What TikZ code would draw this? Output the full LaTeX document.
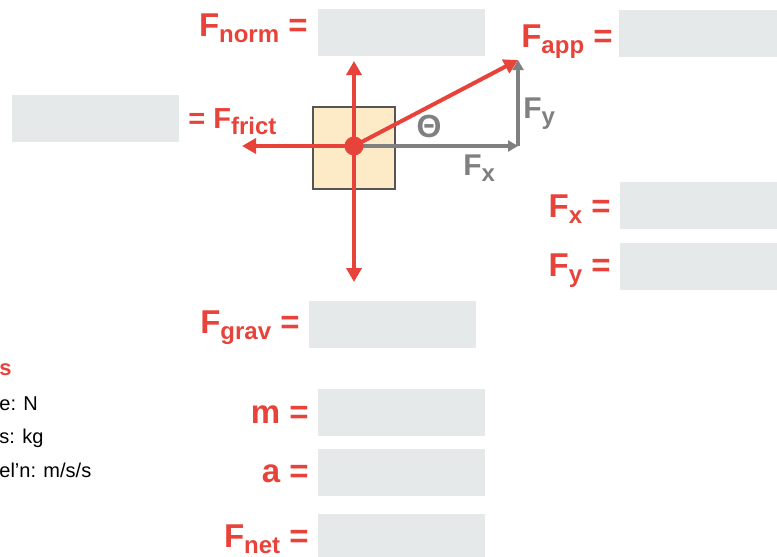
\documentclass[tikz,border=0pt]{standalone}
\usepackage{fontspec}
\setmainfont{Liberation Sans}
\usetikzlibrary{arrows.meta}
\definecolor{fbRed}{HTML}{E8433A}
\definecolor{fbGray}{HTML}{808080}
\definecolor{fbBox}{HTML}{E6E9EA}
\definecolor{fbBlock}{HTML}{FCEBC6}
\definecolor{fbEdge}{HTML}{555555}
\newcommand{\Fsub}[1]{F\raisebox{-0.4ex}{\fontsize{12}{14}\selectfont #1}}

\begin{document}
\begin{tikzpicture}[x=0.5pt,y=-0.5pt,
  lbl/.style={anchor=base east,fbRed,font=\fontsize{16.5}{20}\selectfont\bfseries,inner sep=0pt},
  blank/.style={fill=fbBox,inner sep=0pt,minimum width=83.5pt,minimum height=23.5pt,anchor=north west},
  unit/.style={anchor=base west,inner sep=0pt,font=\fontsize{10}{12}\selectfont},
  force/.style={fbRed,line width=2pt,-{Triangle[length=7pt,width=7.5pt]}},
  comp/.style={fbGray,line width=1.6pt,-{Triangle[length=5pt,width=5.5pt]}}]
  \clip (0,0) rectangle (777,557);
  % cases a remplir
  \node[blank] (normbox) at (318,9) {};
  \node[blank,minimum width=90pt] (appbox) at (619,10) {};
  \node[blank] (frictbox) at (12,95) {};
  \node[blank,minimum width=90pt] (xbox) at (620,182) {};
  \node[blank,minimum width=90pt] (ybox) at (620,243) {};
  \node[blank] (gravbox) at (309,301) {};
  \node[blank] (mbox) at (318,389) {};
  \node[blank] (abox) at (318,449) {};
  \node[blank,minimum height=30pt] (netbox) at (318,514) {};
  % etiquettes
  \node[lbl] (norm) at (308,36) {\Fsub{norm} =};
  \node[lbl] (app) at (613,47) {\Fsub{app} =};
  \node[lbl,anchor=base west,font=\fontsize{14.5}{18}\selectfont\bfseries] (frict) at (188,128) {= \Fsub{frict}};
  \node[lbl] (fx) at (611,217) {\Fsub{x} =};
  \node[lbl] (fy) at (611,276) {\Fsub{y} =};
  \node[lbl] (grav) at (300,333) {\Fsub{grav} =};
  \node[lbl] (mass) at (309,423) {m =};
  \node[lbl] (acc) at (309,482) {a =};
  \node[lbl] (net) at (309,547) {\Fsub{net} =};
  % unites
  \node[unit,fbRed,font=\fontsize{11}{12}\selectfont\bfseries] (uhead) at (-1,375) {s};
  \node[unit] (uforce) at (-1,410) {e: N};
  \node[unit] (umass) at (-1,443) {s: kg};
  \node[unit] (uacc) at (-1,477) {el’n: m/s/s};
  % bloc et forces
  \node[draw=fbEdge,fill=fbBlock,line width=0.8pt,minimum size=41pt,inner sep=0pt] (block) at (354,148) {};
  \coordinate (up) at (354,61);
  \coordinate (down) at (354,282);
  \coordinate (left) at (242,146);
  \coordinate (tip) at (518,60);
  \coordinate (corner) at (518,146);
  \draw[comp] (354,146) -- (corner);
  \draw[comp] (corner) -- (tip);
  \draw[force] (354,146) -- (up);
  \draw[force] (354,146) -- (down);
  \draw[force] (354,146) -- (left);
  \draw[force] (354,146) -- (tip);
  \node[circle,fill=fbRed,minimum size=9.5pt,inner sep=0pt] (dot) at (354,146) {};
  \node[anchor=base west,fbGray,font=\fontsize{15}{16}\selectfont\bfseries,inner sep=0pt] (gy) at (523,118) {\Fsub{y}};
  \node[anchor=base west,fbGray,font=\fontsize{15}{16}\selectfont\bfseries,inner sep=0pt] (gx) at (463,175) {\Fsub{x}};
  \node[fbGray,font=\fontsize{16}{18}\selectfont\bfseries,inner sep=0pt] (theta) at (429,126) {Θ};
\end{tikzpicture}
\end{document}
